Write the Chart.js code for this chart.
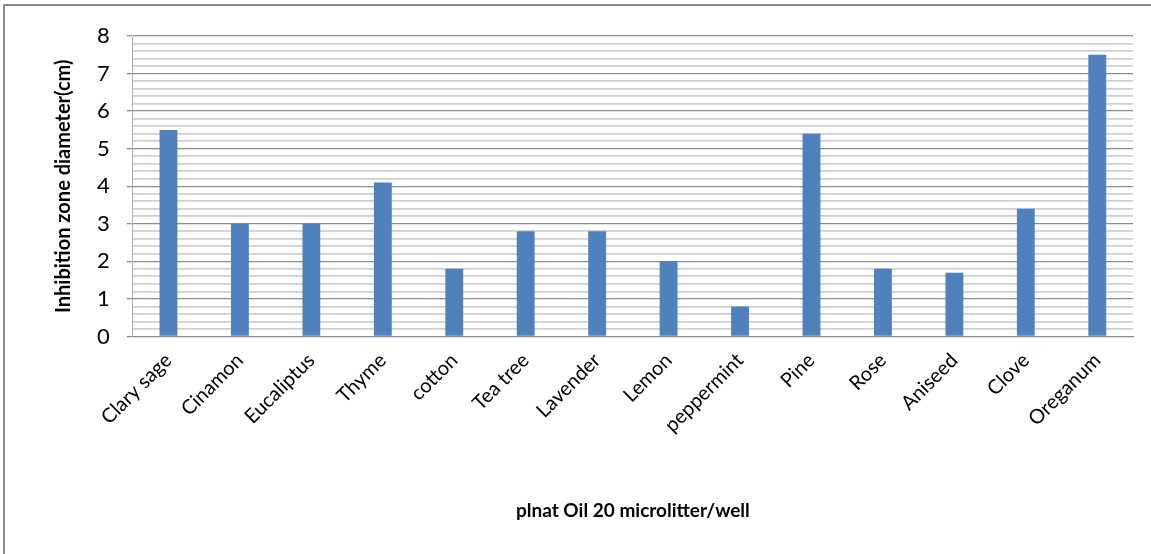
<!DOCTYPE html>
<html>
<head>
<meta charset="utf-8">
<script src="https://cdn.jsdelivr.net/npm/chart.js@4/dist/chart.umd.min.js"></script>
<style>
  html, body { margin: 0; padding: 0; background: #fff; }
  #wrap { width: 1151px; height: 554px; position: relative; }
</style>
</head>
<body>
<div id="wrap"><canvas id="chart"></canvas></div>
<script>
const oils = ['Clary sage', 'Cinamon', 'Eucaliptus', 'Thyme', 'cotton', 'Tea tree', 'Lavender',
  'Lemon', 'peppermint', 'Pine', 'Rose', 'Aniseed', 'Clove', 'Oreganum'];
const zoneDiameter = [5.5, 3.0, 3.0, 4.1, 1.8, 2.8, 2.8, 2.0, 0.8, 5.4, 1.8, 1.7, 3.4, 7.5];
const yMin = 0;
const yMax = 8;

const isWhole = v => Math.abs(v - Math.round(v)) < 1e-6;

// outer frame, only top and left edges show in the picture
const frame = {
  id: 'frame',
  beforeDraw(c) {
    const ctx = c.ctx;
    ctx.save();
    ctx.strokeStyle = '#8a8a8a';
    ctx.lineWidth = 2;
    ctx.beginPath();
    ctx.moveTo(4, 560);
    ctx.lineTo(4, 5);
    ctx.lineTo(1160, 5);
    ctx.stroke();
    ctx.restore();
  }
};

const chart = document.querySelector('#chart').getContext('2d');

new Chart(chart, {
  type: 'bar',
  data: {
    labels: oils,
    datasets: [{
      label: 'Inhibition zone',
      data: zoneDiameter,
      backgroundColor: '#4f81bd',
      borderWidth: 0,
      barPercentage: 0.5,
      categoryPercentage: 0.5
    }]
  },
  options: {
    responsive: true,
    maintainAspectRatio: false,
    animation: false,
    layout: { padding: { left: 48, right: 18, top: 36, bottom: 28 } },
    plugins: {
      legend: { display: false },
      tooltip: { enabled: false }
    },
    scales: {
      x: {
        grid: { display: false },
        border: { color: '#8c8c8c', width: 1 },
        ticks: {
          color: '#000',
          font: { family: 'Lato', size: 20 },
          minRotation: 45,
          maxRotation: 45,
          padding: 4
        },
        title: {
          display: true,
          text: 'plnat Oil 20 microlitter/well',
          color: '#000',
          font: { family: 'Lato', size: 19, weight: 'bold' },
          padding: { top: 58 }
        }
      },
      y: {
        min: yMin,
        max: yMax,
        border: { color: '#b0b0b0', width: 1 },
        grid: {
          color: ctx => isWhole(ctx.tick.value) ? '#8c8c8c' : '#cfcfcf',
          lineWidth: ctx => isWhole(ctx.tick.value) ? 1.3 : 1.8,
          tickColor: ctx => isWhole(ctx.tick.value) ? '#8c8c8c' : 'rgba(0,0,0,0)',
          tickLength: 6
        },
        ticks: {
          stepSize: 0.2,
          autoSkip: false,
          color: '#000',
          font: { family: 'Lato', size: 22 },
          padding: 17,
          callback: v => isWhole(v) ? String(Math.round(v)) : ''
        },
        title: {
          display: true,
          text: 'Inhibition zone diameter(cm)',
          color: '#000',
          font: { family: 'Lato', size: 20, weight: 'bold' },
          padding: { bottom: 4 }
        }
      }
    }
  },
  plugins: [frame]
});
</script>
</body>
</html>
